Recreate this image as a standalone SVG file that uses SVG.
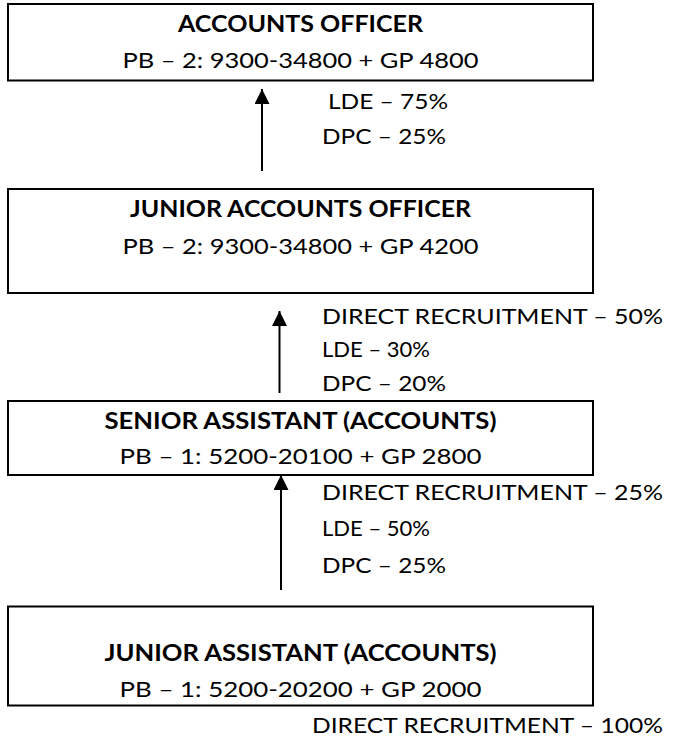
<svg xmlns="http://www.w3.org/2000/svg" width="673" height="740" viewBox="0 0 673 740">
<defs>
<style>
.box{fill:#fff;stroke:#000;stroke-width:2}
text{font-family:Lato,"Liberation Sans",sans-serif;font-size:22px;fill:#000}
.t{font-weight:bold;text-anchor:middle}
.p{text-anchor:middle}
.conn line{stroke:#000;stroke-width:2;marker-end:url(#ah)}
</style>
<marker id="ah" markerUnits="userSpaceOnUse" markerWidth="15" markerHeight="15" refX="15" refY="7.5" orient="auto">
<path d="M0,0 L15,7.5 L0,15 z" fill="#000"/>
</marker>
</defs>
<rect width="673" height="740" fill="#fff"/>
<g id="accounts-officer">
<rect class="box" x="8" y="4" width="585" height="76.5"/>
<text class="t" x="300.5" y="32" textLength="245" lengthAdjust="spacingAndGlyphs">ACCOUNTS OFFICER</text>
<text class="p" x="300.5" y="68" textLength="356" lengthAdjust="spacingAndGlyphs">PB – 2: 9300-34800 + GP 4800</text>
</g>
<g id="junior-accounts-officer">
<rect class="box" x="8" y="189" width="585" height="104"/>
<text class="t" x="300.5" y="217" textLength="341" lengthAdjust="spacingAndGlyphs">JUNIOR ACCOUNTS OFFICER</text>
<text class="p" x="300.5" y="254" textLength="356" lengthAdjust="spacingAndGlyphs">PB – 2: 9300-34800 + GP 4200</text>
</g>
<g id="senior-assistant">
<rect class="box" x="8" y="401" width="585" height="74"/>
<text class="t" x="300.5" y="429" textLength="392" lengthAdjust="spacingAndGlyphs">SENIOR ASSISTANT (ACCOUNTS)</text>
<text class="p" x="300.5" y="464" textLength="362" lengthAdjust="spacingAndGlyphs">PB – 1: 5200-20100 + GP 2800</text>
</g>
<g id="junior-assistant">
<rect class="box" x="8" y="606.5" width="585" height="99"/>
<text class="t" x="300.5" y="661" textLength="392" lengthAdjust="spacingAndGlyphs">JUNIOR ASSISTANT (ACCOUNTS)</text>
<text class="p" x="300.5" y="697" textLength="362" lengthAdjust="spacingAndGlyphs">PB – 1: 5200-20200 + GP 2000</text>
</g>
<g id="connectors" class="conn">
<line x1="262" y1="171" x2="262" y2="89"/>
<line x1="279.5" y1="393" x2="279.5" y2="311"/>
<line x1="281" y1="590" x2="281" y2="475"/>
</g>
<g id="labels">
<text x="328" y="109" textLength="120" lengthAdjust="spacingAndGlyphs">LDE – 75%</text>
<text x="322" y="144" textLength="124" lengthAdjust="spacingAndGlyphs">DPC – 25%</text>
<text x="322" y="324" textLength="341" lengthAdjust="spacingAndGlyphs">DIRECT RECRUITMENT – 50%</text>
<text x="322" y="357" textLength="108" lengthAdjust="spacingAndGlyphs">LDE – 30%</text>
<text x="322" y="391" textLength="124" lengthAdjust="spacingAndGlyphs">DPC – 20%</text>
<text x="322" y="500" textLength="341" lengthAdjust="spacingAndGlyphs">DIRECT RECRUITMENT – 25%</text>
<text x="322" y="536" textLength="108" lengthAdjust="spacingAndGlyphs">LDE – 50%</text>
<text x="322" y="572.5" textLength="124" lengthAdjust="spacingAndGlyphs">DPC – 25%</text>
<text x="312" y="732.5" textLength="351" lengthAdjust="spacingAndGlyphs">DIRECT RECRUITMENT – 100%</text>
</g>
</svg>
